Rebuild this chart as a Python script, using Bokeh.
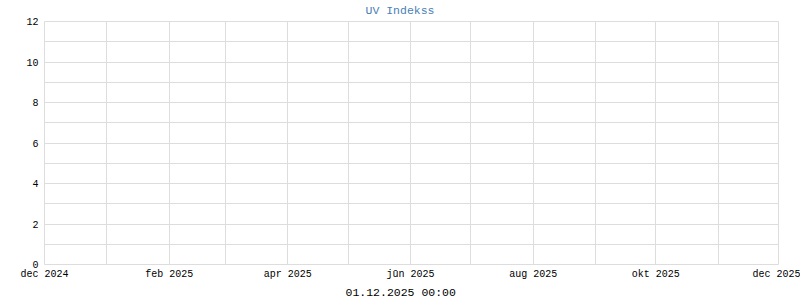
from datetime import datetime, timezone
from bokeh.plotting import figure
from bokeh.models import Range1d, FixedTicker, Title
from bokeh.embed import file_html
from bokeh.resources import INLINE

# Data (chart is empty: no UV readings in period)
uv_times = []
uv_values = []

month_starts = ["2024-12-01", "2025-01-01", "2025-02-01", "2025-03-01", "2025-04-01",
                "2025-05-01", "2025-06-01", "2025-07-01", "2025-08-01", "2025-09-01",
                "2025-10-01", "2025-11-01", "2025-12-01"]
month_labels = ["dec 2024", "janv 2025", "feb 2025", "mar 2025", "apr 2025", "mai 2025",
                "jūn 2025", "jūl 2025", "aug 2025", "sep 2025", "okt 2025", "nov 2025", "dec 2025"]
y_major = [0, 2, 4, 6, 8, 10, 12]
y_minor = [1, 3, 5, 7, 9, 11]
title_text = "UV Indekss"
footer_text = "01.12.2025 00:00"


def ms(d):
    return datetime.strptime(d, "%Y-%m-%d").replace(tzinfo=timezone.utc).timestamp() * 1000.0


month_ms = [ms(d) for d in month_starts]
major_x = month_ms[::2]
minor_x = month_ms[1::2]

FONT = "Liberation Mono"
GRID = "#dddddd"
W, H = 800, 300
LEFT, RIGHT, TOP, BOTTOM = 44, 22, 21, 36

p = figure(width=W, height=H, output_backend="svg", toolbar_location=None,
           x_range=Range1d(month_ms[0], month_ms[-1]), y_range=Range1d(0, 12),
           min_border_left=LEFT, min_border_right=RIGHT, min_border_top=TOP,
           min_border_bottom=BOTTOM)

p.line(x=uv_times, y=uv_values, line_color="#4682b4", line_width=1.5)

# texts centred on the canvas (not the frame): left-aligned with offset
title = Title(text=title_text, align="left", offset=W / 2 - LEFT - 35,
              vertical_align="top", standoff=6,
              text_font=FONT, text_font_size="11.5px", text_font_style="normal",
              text_color="#4a80b4")
p.add_layout(title, "above")

footer = Title(text=footer_text, align="left", offset=W / 2 - LEFT - 55, standoff=3,
               text_font=FONT, text_font_size="11.5px", text_font_style="normal",
               text_color="#000000")
p.add_layout(footer, "below")

p.xaxis.ticker = FixedTicker(ticks=major_x, minor_ticks=minor_x)
p.xaxis.major_label_overrides = {t: lab for t, lab in zip(month_ms, month_labels) if t in major_x}
p.yaxis.ticker = FixedTicker(ticks=y_major, minor_ticks=y_minor)

for ax in (p.xaxis[0], p.yaxis[0]):
    ax.axis_line_color = None
    ax.major_tick_line_color = None
    ax.minor_tick_line_color = None
    ax.major_tick_out = 0
    ax.minor_tick_out = 0
    ax.major_tick_in = 0
    ax.minor_tick_in = 0
    ax.major_label_text_font = FONT
    ax.major_label_text_font_size = "10px"
    ax.major_label_text_color = "#000000"

p.xaxis.major_label_standoff = 4
p.yaxis.major_label_standoff = 6

p.xgrid.grid_line_color = GRID
p.xgrid.minor_grid_line_color = GRID
p.ygrid.grid_line_color = GRID
p.ygrid.minor_grid_line_color = GRID
p.outline_line_color = GRID
p.background_fill_color = "white"
p.border_fill_color = "white"

open("out.html", "w").write(file_html(p, INLINE))
